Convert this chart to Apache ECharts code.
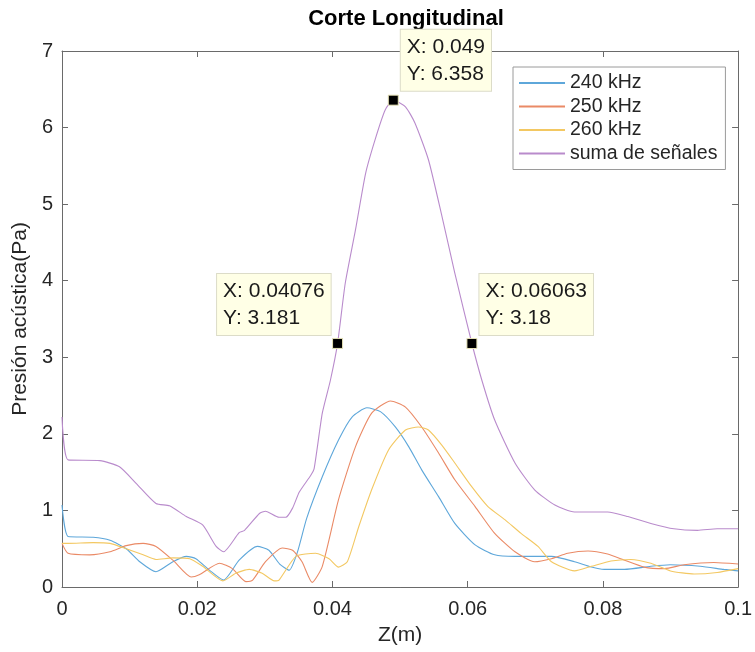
<!DOCTYPE html>
<html>
<head>
<meta charset="utf-8">
<script src="https://cdn.jsdelivr.net/npm/echarts@6/dist/echarts.min.js"></script>
<style>html,body{margin:0;padding:0;background:#fff}#c{width:755px;height:652px}</style>
</head>
<body>
<div id="c"></div>
<script>
var seriesNames = ['240 kHz', '250 kHz', '260 kHz', 'suma de señales'];
var xTicks = [0, 0.02, 0.04, 0.06, 0.08, 0.1];
var yTicks = [0, 1, 2, 3, 4, 5, 6, 7];

var z240 = [0,0.0009,0.0046,0.0071,0.0095,0.0115,0.0139,0.0164,0.0184,0.0198,0.0218,0.0239,0.0262,0.0289,0.0306,0.0322,0.0336,0.0348,0.0362,0.0385,0.0409,0.0429,0.0451,0.0471,0.0493,0.0513,0.0532,0.0557,0.0581,0.0611,0.064,0.067,0.0704,0.0724,0.0758,0.0783,0.0802,0.0832,0.0871,0.09,0.0944,0.0979,0.1];
var p240 = [1.07,0.66,0.65,0.61,0.50,0.33,0.20,0.33,0.40,0.37,0.22,0.09,0.35,0.53,0.48,0.30,0.22,0.45,0.90,1.44,1.92,2.22,2.34,2.29,2.09,1.83,1.53,1.18,0.83,0.55,0.42,0.40,0.40,0.40,0.33,0.26,0.23,0.23,0.27,0.29,0.27,0.23,0.21];

var z250 = [0,0.0009,0.0041,0.0071,0.0095,0.012,0.0139,0.0164,0.0191,0.0203,0.0233,0.0252,0.0272,0.0282,0.0301,0.0326,0.0341,0.0355,0.037,0.0385,0.0409,0.0434,0.0458,0.0486,0.0508,0.0532,0.0557,0.0581,0.0611,0.064,0.067,0.0699,0.0724,0.0748,0.0778,0.0807,0.0832,0.0861,0.0891,0.092,0.0964,0.1];
var p250 = [0.57,0.44,0.42,0.46,0.54,0.57,0.53,0.35,0.13,0.16,0.31,0.24,0.07,0.09,0.33,0.51,0.48,0.33,0.06,0.27,1.14,1.83,2.27,2.43,2.35,2.09,1.75,1.40,1.05,0.70,0.46,0.33,0.37,0.44,0.47,0.43,0.35,0.26,0.24,0.29,0.32,0.30];

var z260 = [0,0.0009,0.0046,0.0071,0.0095,0.012,0.0139,0.0164,0.0189,0.0208,0.0238,0.0257,0.0277,0.0296,0.0314,0.0321,0.0346,0.0375,0.0395,0.0409,0.0422,0.0439,0.0458,0.0483,0.0508,0.0527,0.0542,0.0562,0.0581,0.0606,0.063,0.0655,0.0679,0.0704,0.0724,0.0758,0.0783,0.0812,0.0841,0.0871,0.09,0.0935,0.0969,0.1];
var p260 = [0.57,0.57,0.58,0.57,0.50,0.42,0.36,0.38,0.37,0.27,0.08,0.18,0.23,0.18,0.08,0.09,0.40,0.44,0.37,0.26,0.33,0.79,1.27,1.79,2.05,2.09,2.05,1.85,1.62,1.31,1.05,0.88,0.70,0.53,0.33,0.21,0.27,0.34,0.36,0.31,0.21,0.17,0.19,0.24];

var zSum = [0,0.0009,0.0056,0.0085,0.011,0.0139,0.0159,0.0184,0.0208,0.0228,0.0239,0.0262,0.027,0.0292,0.0301,0.0321,0.0331,0.0341,0.0351,0.0368,0.0373,0.0385,0.0397,0.04076,0.0419,0.0434,0.0449,0.0463,0.0478,0.049,0.0508,0.0522,0.0542,0.0562,0.0581,0.06063,0.0621,0.064,0.067,0.0699,0.0729,0.0758,0.0807,0.0837,0.0871,0.0905,0.094,0.0969,0.1];
var pSum = [2.22,1.66,1.65,1.57,1.35,1.09,1.06,0.92,0.81,0.53,0.46,0.71,0.74,0.96,0.99,0.91,0.91,1.03,1.24,1.46,1.55,2.27,2.70,3.181,3.97,4.66,5.40,5.84,6.23,6.358,6.27,6.06,5.58,4.84,4.10,3.18,2.70,2.18,1.62,1.27,1.07,0.98,0.98,0.92,0.83,0.76,0.74,0.76,0.76];

var tipX = [0.04076, 0.049, 0.06063];
var tipY = [3.181, 6.358, 3.18];

function pairs(xs, ys) { return xs.map(function (x, i) { return [x, ys[i]]; }); }

var colors = ['#5ea7da', '#ea8a66', '#f3c862', '#b98bcc'];
var fontFam = '"Liberation Sans", Helvetica, Arial, sans-serif';

var tipLabelPos = [[-115, -64], [13, -65], [13, -64]];

var tipData = tipX.map(function (x, i) {
  return {
    value: [x, tipY[i]],
    label: {
      show: true,
      position: tipLabelPos[i],
      align: 'left',
      verticalAlign: 'top'
    }
  };
});

function lineSeries(name, xs, ys, color) {
  return {
    name: name, type: 'line', data: pairs(xs, ys),
    showSymbol: false, symbol: 'none', smooth: 0.2,
    lineStyle: { color: color, width: 1.1 },
    itemStyle: { color: color },
    z: 3, animation: false
  };
}

var axisCol = '#6a6a6a';
var chart = echarts.init(document.getElementById('c'));
chart.setOption({
  animation: false,
  backgroundColor: '#fff',
  textStyle: { fontFamily: fontFam },
  title: {
    text: 'Corte Longitudinal',
    left: 401, top: 3, textAlign: 'center',
    textStyle: { fontSize: 22, fontWeight: 'bold', color: '#000', fontFamily: fontFam }
  },
  grid: { left: 62, right: 14, top: 51, bottom: 65, containLabel: false },
  legend: {
    data: seriesNames,
    orient: 'vertical',
    left: 513, top: 67,
    padding: [6, 8, 6, 6],
    itemGap: 3.5,
    itemWidth: 46, itemHeight: 2,
    icon: 'rect',
    backgroundColor: '#fff',
    borderColor: '#9a9a9a', borderWidth: 1,
    textStyle: { fontSize: 19.5, color: '#262626', fontFamily: fontFam, lineHeight: 20 }
  },
  xAxis: [{
    type: 'value', min: xTicks[0], max: xTicks[xTicks.length - 1], interval: xTicks[1] - xTicks[0],
    name: 'Z(m)', nameLocation: 'middle', nameGap: 38,
    nameTextStyle: { fontSize: 21, color: '#262626', fontFamily: fontFam },
    axisLine: { show: true, lineStyle: { color: axisCol, width: 1 } },
    axisTick: { show: true, inside: true, length: 6, lineStyle: { color: axisCol } },
    axisLabel: { fontSize: 20, color: '#262626', margin: 12, fontFamily: fontFam,
      formatter: function (v) { return String(+v.toFixed(4)); } },
    splitLine: { show: false }
  }, {
    type: 'value', position: 'top', min: xTicks[0], max: xTicks[xTicks.length - 1], interval: xTicks[1] - xTicks[0],
    axisLine: { show: true, onZero: false, lineStyle: { color: axisCol, width: 1 } },
    axisTick: { show: true, inside: true, length: 6, lineStyle: { color: axisCol } },
    axisLabel: { show: false }, splitLine: { show: false }
  }],
  yAxis: [{
    type: 'value', min: yTicks[0], max: yTicks[yTicks.length - 1], interval: 1,
    name: 'Presión acústica(Pa)', nameLocation: 'middle', nameGap: 29,
    nameTextStyle: { fontSize: 21, color: '#262626', fontFamily: fontFam },
    axisLine: { show: true, lineStyle: { color: axisCol, width: 1 } },
    axisTick: { show: true, inside: true, length: 6, lineStyle: { color: axisCol } },
    axisLabel: { fontSize: 20, color: '#262626', margin: 9, fontFamily: fontFam },
    splitLine: { show: false }
  }, {
    type: 'value', position: 'right', min: yTicks[0], max: yTicks[yTicks.length - 1], interval: 1,
    axisLine: { show: true, onZero: false, lineStyle: { color: axisCol, width: 1 } },
    axisTick: { show: true, inside: true, length: 6, lineStyle: { color: axisCol } },
    axisLabel: { show: false }, splitLine: { show: false }
  }],
  series: [
    lineSeries(seriesNames[0], z240, p240, colors[0]),
    lineSeries(seriesNames[1], z250, p250, colors[1]),
    lineSeries(seriesNames[2], z260, p260, colors[2]),
    lineSeries(seriesNames[3], zSum, pSum, colors[3]),
    {
      name: 'datatips', type: 'scatter', data: tipData,
      symbol: 'rect', symbolSize: 10,
      itemStyle: { color: '#000', borderColor: '#e8e4b8', borderWidth: 1, opacity: 1 },
      z: 10,
      label: {
        show: true,
        formatter: function (p) { return 'X: ' + p.value[0] + '\nY: ' + p.value[1]; },
        fontSize: 21, lineHeight: 27, color: '#1a1a1a', fontFamily: fontFam,
        backgroundColor: '#ffffe6', borderColor: '#dcdcc8', borderWidth: 1,
        padding: [4, 6, 3, 6]
      },
      emphasis: { disabled: true }
    }
  ]
});
</script>
</body>
</html>
